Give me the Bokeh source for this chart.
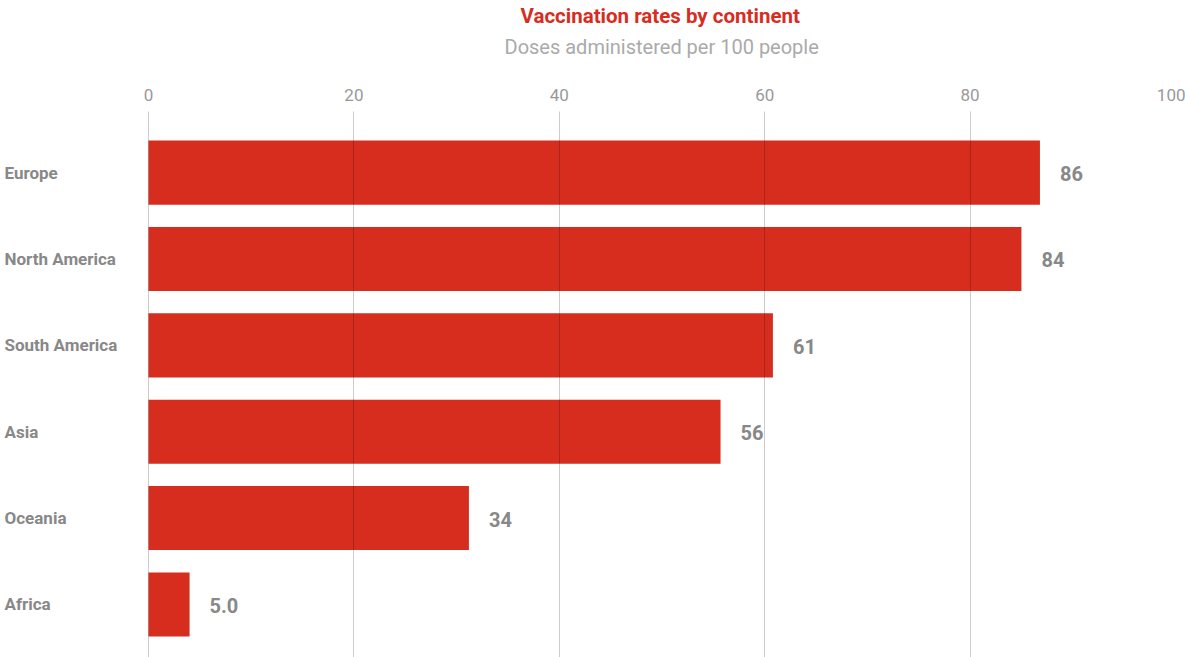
from bokeh.plotting import figure
from bokeh.models import ColumnDataSource, Range1d, FixedTicker, LabelSet, Title, LinearAxis
from bokeh.core.properties import value
from bokeh.embed import file_html
from bokeh.resources import INLINE

continents = ["Europe", "North America", "South America", "Asia", "Oceania", "Africa"]
doses = [86.8, 85.0, 60.8, 55.7, 31.2, 4.0]
value_labels = ["86", "84", "61", "56", "34", "5.0"]
x_ticks = [0, 20, 40, 60, 80, 100]
title_text = "Vaccination rates by continent"
subtitle_text = "Doses administered per 100 people"

RED = "#d62d1f"
FONT = "Roboto"
GRAY = "#888888"

ypos = list(range(len(continents)))
src = ColumnDataSource(dict(y=ypos, name=continents, value=doses, label=value_labels))

PX = 86.2          # pixels per category
TOP = -0.708
BOTTOM = TOP + 545 / PX
XSTART = -14.41

p = figure(width=1185, height=657, x_range=Range1d(XSTART, 100), y_range=Range1d(BOTTOM, TOP),
           x_axis_location="above", output_backend="svg", toolbar_location=None,
           min_border_left=0, min_border_right=10, min_border_top=0, min_border_bottom=0)
p.outline_line_color = None

p.hbar(y="y", left=0, right="value", height=0.742, fill_color=RED, line_color=None, source=src)

# axis
p.xaxis.ticker = FixedTicker(ticks=x_ticks)
p.xaxis.axis_line_color = None
p.xaxis.major_tick_line_color = None
p.xaxis.minor_tick_line_color = None
p.xaxis.major_tick_out = 0
p.xaxis.minor_tick_out = 0
p.xaxis.major_tick_in = 0
p.xaxis.minor_tick_in = 0
p.xaxis.major_label_text_font = FONT
p.xaxis.major_label_text_font_size = "17px"
p.xaxis.major_label_text_color = "#999999"
p.xaxis.major_label_standoff = 11
p.yaxis.visible = False
p.ygrid.grid_line_color = None
p.xgrid.ticker = FixedTicker(ticks=x_ticks)
p.xgrid.grid_line_color = "black"
p.xgrid.grid_line_alpha = 0.2
p.xgrid.level = "annotation"

# spacer between tick labels and subtitle: one white (invisible) tick, no labels
spacer = LinearAxis(ticker=FixedTicker(ticks=[x_ticks[0]]), axis_line_color=None,
                    major_tick_line_color="white", minor_tick_line_color=None,
                    major_tick_out=23, major_tick_in=0, minor_tick_out=0, minor_tick_in=0,
                    major_label_standoff=0, major_label_text_color=None)
p.add_layout(spacer, "above")

# category labels
p.add_layout(LabelSet(x=XSTART, y="y", text="name", source=src, x_offset=4, y_offset=0,
                      text_align="left", text_baseline="middle", text_font=value(FONT),
                      text_font_style="bold", text_font_size="17px", text_color=GRAY))
# value labels
p.add_layout(LabelSet(x="value", y="y", text="label", source=src, x_offset=20, y_offset=-1,
                      text_align="left", text_baseline="middle", text_font=value(FONT),
                      text_font_style="bold", text_font_size="20px", text_color=GRAY))

# titles
p.add_layout(Title(text=subtitle_text, align="left", offset=504, text_font=FONT,
                   text_font_style="normal", text_font_size="20px", text_color="#aaaaaa",
                   standoff=8), "above")
p.title.text = title_text
p.title.align = "left"
p.title.offset = 520
p.title.standoff = 2
p.title.text_font = FONT
p.title.text_font_style = "bold"
p.title.text_font_size = "20.5px"
p.title.text_color = RED

open("out.html", "w").write(file_html(p, INLINE))
